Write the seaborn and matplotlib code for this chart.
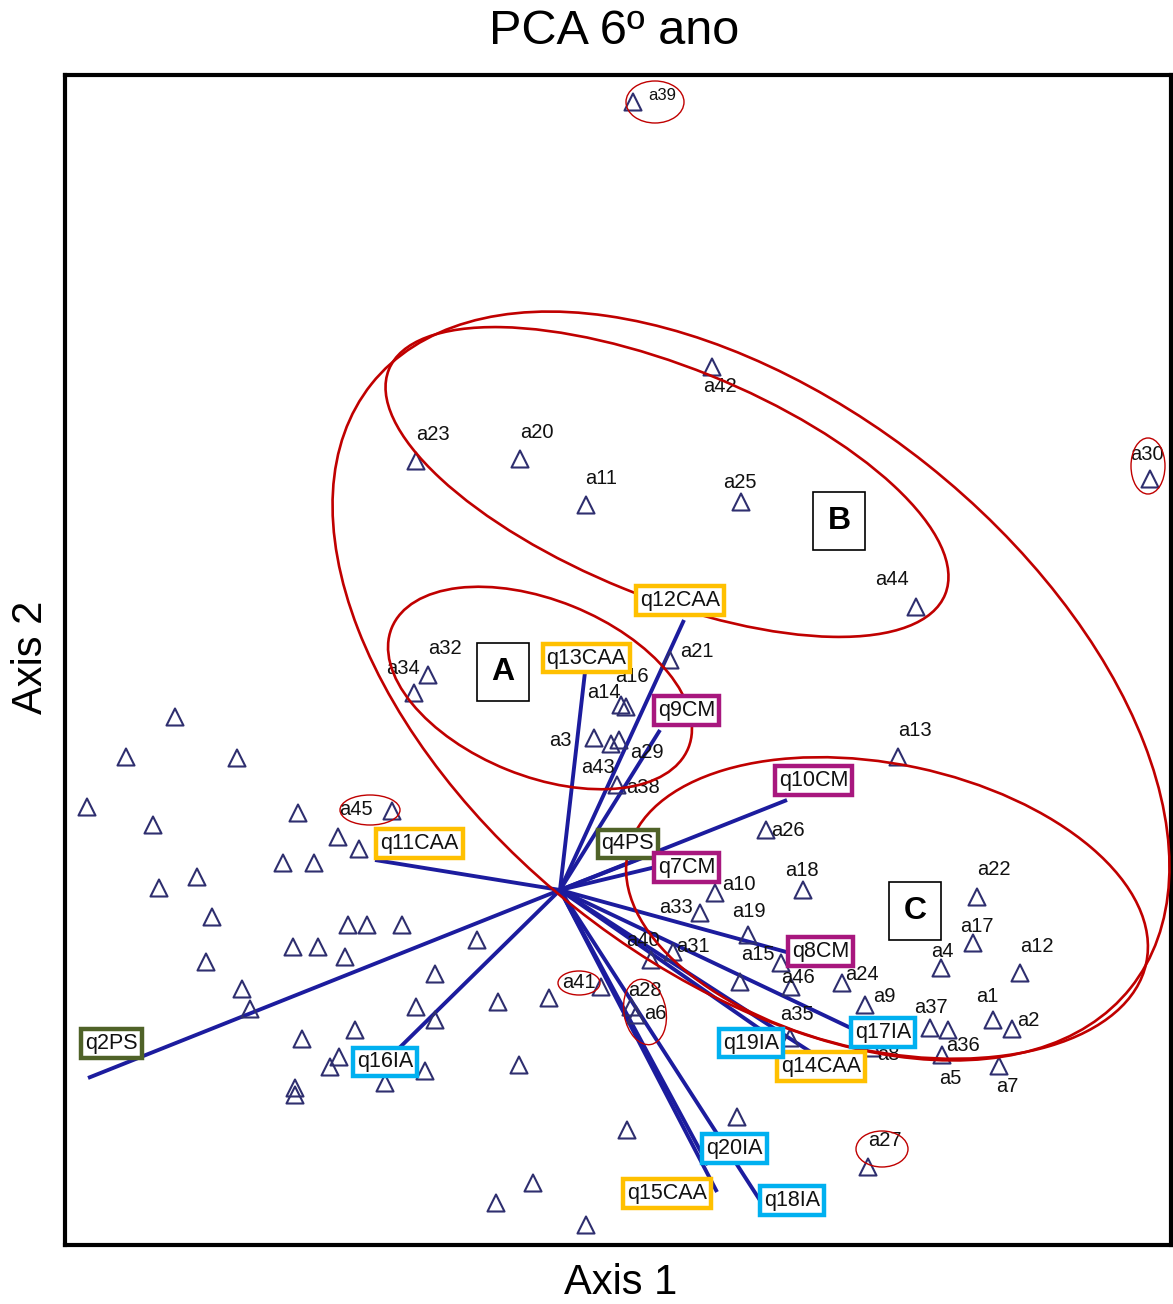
import matplotlib
matplotlib.use("Agg")
import matplotlib.pyplot as plt
from matplotlib.patches import Ellipse
import pandas as pd
import seaborn as sns

# ---------------------------------------------------------------------------
# Student scores on the first two principal axes (students shown with a name)
student_ids = ["a39", "a42", "a23", "a20", "a11", "a25", "a44", "a30", "a32", "a34",
               "a21", "a16", "a14", "a3", "a43", "a29", "a38", "a13", "a45", "a26",
               "a18", "a10", "a33", "a19", "a22", "a17", "a12", "a4", "a15", "a31",
               "a40", "a46", "a24", "a9", "a35", "a37", "a36", "a1", "a2", "a5",
               "a7", "a8", "a41", "a28", "a6", "a27"]
student_ax1 = [0.73, 1.52, -1.44, -0.40, 0.26, 1.81, 3.56, 5.90, -1.32, -1.46,
               1.10, 0.66, 0.61, 0.34, 0.51, 0.59, 0.57, 3.38, -1.68, 2.06,
               2.43, 1.55, 1.40, 1.88, 4.17, 4.13, 4.60, 3.81, 2.21, 1.13,
               0.91, 2.31, 2.82, 3.05, 2.30, 3.70, 3.88, 4.33, 4.52, 3.82,
               4.39, 3.12, 0.41, 0.71, 0.76, 3.08]
student_ax2 = [7.88, 5.23, 4.29, 4.31, 3.85, 3.88, 2.83, 4.11, 2.15, 1.97,
               2.30, 1.83, 1.85, 1.52, 1.46, 1.50, 1.05, 1.33, 0.79, 0.60,
               0.00, -0.03, -0.23, -0.45, -0.07, -0.53, -0.83, -0.78, -0.73, -0.62,
               -0.70, -0.97, -0.93, -1.15, -1.48, -1.38, -1.40, -1.30, -1.39, -1.65,
               -1.76, -1.58, -0.97, -1.17, -1.25, -2.77]

# Remaining students (plotted without a name)
other_ax1 = [-3.85, -4.34, -3.23, -4.73, -4.07, -2.62, -2.22, -2.01, -2.77, -2.46,
             -3.63, -4.01, -3.48, -2.12, -1.93, -1.58, -0.83, -2.67, -2.42, -2.15,
             -3.54, -1.25, -3.18, -3.10, -1.44, -1.25, -2.58, -2.05, -2.21, -2.30,
             -1.35, -1.75, -2.65, -2.65, -0.62, -0.11, -0.41, 0.67, 1.77, -0.27,
             -0.64, 0.26, 1.80]
other_ax2 = [1.73, 1.33, 1.32, 0.83, 0.65, 0.77, 0.53, 0.41, 0.27, 0.27,
             0.13, 0.02, -0.27, -0.35, -0.35, -0.35, -0.50, -0.57, -0.57, -0.67,
             -0.72, -0.84, -0.99, -1.19, -1.17, -1.30, -1.49, -1.40, -1.67, -1.77,
             -1.81, -1.93, -1.98, -2.05, -1.12, -1.08, -1.75, -2.40, -2.27, -2.93,
             -3.13, -3.35, -0.92]

# Question loadings (arrows from the origin)
question_ids = ["q2PS", "q4PS", "q7CM", "q8CM", "q9CM", "q10CM", "q11CAA", "q12CAA",
                "q13CAA", "q14CAA", "q15CAA", "q16IA", "q17IA", "q18IA", "q19IA", "q20IA"]
question_ax1 = [-4.72, 0.90, 1.00, 2.30, 1.00, 2.27, -1.85, 1.24,
                0.25, 2.60, 1.57, -1.75, 2.95, 2.03, 2.20, 1.48]
question_ax2 = [-1.88, 0.35, 0.24, -0.63, 1.60, 0.90, 0.30, 2.70,
                2.18, -1.68, -3.02, -1.72, -1.40, -3.15, -1.53, -2.75]
question_group = ["PS", "PS", "CM", "CM", "CM", "CM", "CAA", "CAA",
                  "CAA", "CAA", "CAA", "IA", "IA", "IA", "IA", "IA"]

# ---------------------------------------------------------------------------
# Styling
group_colors = {"CAA": "#FFC000", "CM": "#A8177E", "PS": "#4F6228", "IA": "#00B0F0"}
arrow_color = "#1c1c9e"
point_color = "#2f2f6f"
ring_color = "#C00000"

# label offsets in points (dx, dy) from each mark
student_offsets = {
    "a39": (21, 5), "a42": (6, -14), "a23": (12, 19), "a20": (12, 19), "a11": (11, 19),
    "a25": (-1, 14), "a44": (-17, 20), "a30": (-2, 18), "a32": (12, 19), "a34": (-8, 18),
    "a21": (19, 6), "a16": (4, 22), "a14": (-12, 9), "a3": (-24, -2), "a43": (-9, -17),
    "a29": (20, -9), "a38": (19, -2), "a13": (12, 19), "a45": (-26, 1), "a26": (16, 0),
    "a18": (-1, 14), "a10": (17, 6), "a33": (-17, 4), "a19": (1, 17), "a22": (12, 20),
    "a17": (3, 12), "a12": (12, 19), "a4": (1, 12), "a15": (-17, 6), "a31": (14, 4),
    "a40": (-6, 14), "a46": (5, 7), "a24": (14, 6), "a9": (14, 6), "a35": (5, 17),
    "a37": (1, 15), "a36": (11, -11), "a1": (-4, 17), "a2": (12, 6), "a5": (6, -17),
    "a7": (6, -15), "a8": (12, -5), "a41": (-16, 3), "a28": (10, 12), "a6": (14, 1),
    "a27": (12, 19),
}
question_offsets = {
    "q2PS": (17, 25), "q4PS": (-16, 8), "q7CM": (19, -1), "q8CM": (22, 1),
    "q9CM": (19, 14), "q10CM": (19, 14), "q11CAA": (32, 12), "q12CAA": (-3, 14),
    "q13CAA": (1, 10), "q14CAA": (1, -6), "q15CAA": (-36, -1), "q16IA": (0, 0),
    "q17IA": (20, -2), "q18IA": (21, 3), "q19IA": (-21, 0), "q20IA": (19, 12),
}

# outlines drawn around student groups: (cx, cy, width, height, angle, linewidth)
group_outlines = [
    (-0.20, 2.02, 3.20, 1.76, -22, 1.9),     # A
    (1.07, 4.08, 6.00, 2.30, -22, 1.9),      # B
    (1.91, 2.04, 9.70, 5.66, -38.5, 1.9),    # B + C
    (3.27, -0.18, 5.30, 2.87, -12, 1.9),     # C
    (0.95, 7.88, 0.58, 0.42, 0, 1.0),        # a39
    (5.88, 4.24, 0.34, 0.56, 0, 1.0),        # a30
    (-1.90, 0.80, 0.60, 0.30, 0, 1.0),       # a45
    (0.19, -0.93, 0.42, 0.24, 0, 1.0),       # a41
    (0.85, -1.22, 0.42, 0.66, 10, 1.0),      # a28 / a6
    (3.22, -2.59, 0.52, 0.36, 0, 1.0),       # a27
]
group_tags = [("A", -0.57, 2.18), ("B", 2.79, 3.69), ("C", 3.55, -0.21)]

# ---------------------------------------------------------------------------
sns.set_theme(style="white")
plt.rcParams["font.family"] = ["Liberation Sans", "DejaVu Sans"]
plt.rcParams["text.color"] = "black"
plt.rcParams["axes.labelcolor"] = "black"

fig = plt.figure(figsize=(11.73, 13.04), dpi=100)
ax = fig.add_axes([65 / 1173, 1 - 1245 / 1304, (1171 - 65) / 1173, (1245 - 75) / 1304])

students = pd.DataFrame({"Axis 1": student_ax1 + other_ax1,
                         "Axis 2": student_ax2 + other_ax2})
sns.scatterplot(data=students, x="Axis 1", y="Axis 2", marker="^", s=150,
                color=point_color, facecolors="none", edgecolor=point_color,
                linewidth=1.5, ax=ax, zorder=3)

# loading arrows
for qx, qy in zip(question_ax1, question_ax2):
    ax.plot([0, qx], [0, qy], color=arrow_color, lw=2.8, solid_capstyle="butt", zorder=2)

# student names
for name, sx, sy in zip(student_ids, student_ax1, student_ax2):
    dx, dy = student_offsets[name]
    ax.annotate(name, (sx, sy), xytext=(dx, dy), textcoords="offset points",
                ha="center", va="center", fontsize=12 if name == "a39" else 14.5,
                color="#111111", zorder=3.5)

# group outlines
for cx, cy, w, h, ang, lw in group_outlines:
    ax.add_patch(Ellipse((cx, cy), w, h, angle=ang, fill=False,
                         edgecolor=ring_color, lw=lw, zorder=4))

# question labels in coloured frames
for name, qx, qy, grp in zip(question_ids, question_ax1, question_ax2, question_group):
    dx, dy = question_offsets[name]
    ax.annotate(name, (qx, qy), xytext=(dx, dy), textcoords="offset points",
                ha="center", va="center", fontsize=15.5, color="#111111", zorder=5,
                bbox=dict(boxstyle="square,pad=0.18", fc="white",
                          ec=group_colors[grp], lw=3.2))

# group tags
for tag, tx, ty in group_tags:
    ax.text(tx, ty, tag, ha="center", va="center", fontsize=23, fontweight="bold",
            color="black", zorder=6,
            bbox=dict(boxstyle="square,pad=0.45", fc="white", ec="black", lw=1.2))

ax.set_xlim(-4.95, 6.11)
ax.set_ylim(-3.55, 8.15)
ax.set_xticks([])
ax.set_yticks([])
for spine in ax.spines.values():
    spine.set_linewidth(3)
    spine.set_color("black")

ax.set_xlabel("Axis 1", fontsize=30, va="center", color="black")
ax.xaxis.set_label_coords(0.502, -0.0325)
ax.set_ylabel("Axis 2", fontsize=30, va="center", ha="center", color="black")
ax.yaxis.set_label_coords(-0.031, 0.502)

fig.text(614 / 1173, 1 - 32 / 1304, "PCA 6º ano", ha="center", va="center",
         fontsize=35, color="black")

fig.savefig("out.png", dpi=100, facecolor="white")
